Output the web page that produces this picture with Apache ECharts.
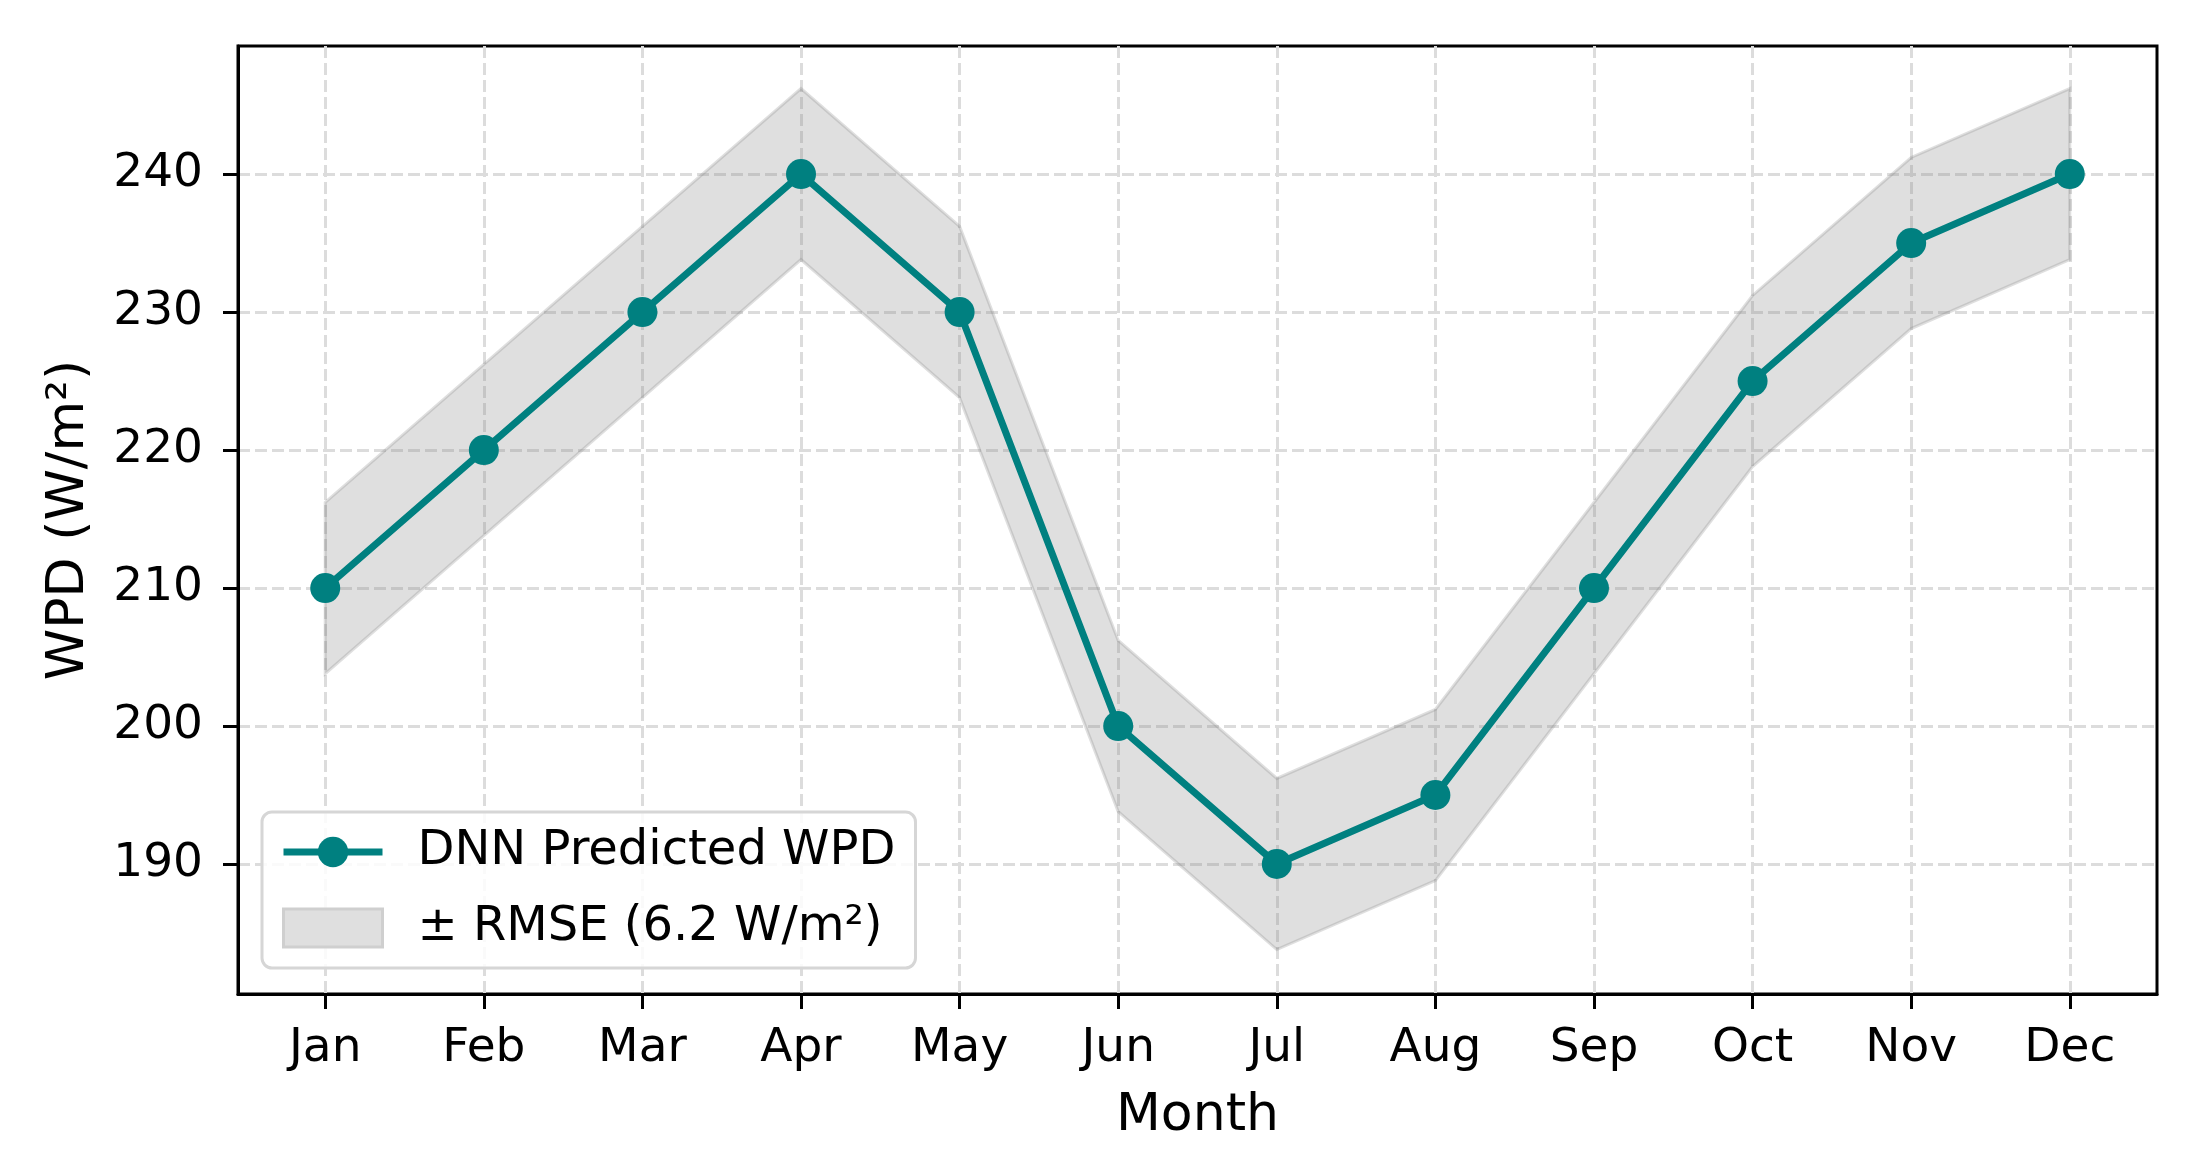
<!DOCTYPE html>
<html>
<head>
<meta charset="utf-8">
<script src="https://cdn.jsdelivr.net/npm/echarts@6/dist/echarts.min.js"></script>
<style>html,body{margin:0;padding:0;background:#fff;}#c{width:2191px;height:1161px;}</style>
</head>
<body>
<div id="c"></div>
<script>
const months = ['Jan','Feb','Mar','Apr','May','Jun','Jul','Aug','Sep','Oct','Nov','Dec'];
const wpd = [210, 220, 230, 240, 230, 200, 190, 195, 210, 225, 235, 240];
const rmse = 6.2;
const lower = [203.8, 213.8, 223.8, 233.8, 223.8, 193.8, 183.8, 188.8, 203.8, 218.8, 228.8, 233.8];
const upper = [216.2, 226.2, 236.2, 246.2, 236.2, 206.2, 196.2, 201.2, 216.2, 231.2, 241.2, 246.2];
const yTicks = [190, 200, 210, 220, 230, 240];
const xTicks = [0,1,2,3,4,5,6,7,8,9,10,11];

const FONT = 'DejaVu Sans';
const lineName = 'DNN Predicted WPD';
const bandName = '± RMSE (6.2 W/m²)';

const chart = echarts.init(document.getElementById('c'), null, {renderer: 'canvas'});
const gridLine = {show: true, lineStyle: {color: '#dcdcdc', width: 3, type: [12, 5]}};

function renderBand(params, api) {
  if (params.dataIndex !== 0) return null;
  const top = xTicks.map(i => api.coord([i, upper[i]]));
  const bot = xTicks.map(i => api.coord([i, lower[i]])).reverse();
  const pts = top.concat(bot);
  return {
    type: 'polygon',
    shape: {points: pts},
    style: {fill: 'rgba(128,128,128,0.25)', stroke: 'rgba(128,128,128,0.25)', lineWidth: 3},
    silent: true
  };
}

chart.setOption({
  animation: false,
  backgroundColor: '#ffffff',
  textStyle: {fontFamily: FONT},
  grid: {left: 238, top: 46, right: 34, bottom: 167, show: true, borderColor: '#000', borderWidth: 3, backgroundColor: 'transparent'},
  legend: {
    left: 262, top: 812,
    orient: 'vertical',
    padding: [16, 20, 16, 18],
    itemGap: 28,
    itemWidth: 99, itemHeight: 38,
    backgroundColor: 'rgba(255,255,255,0.85)',
    borderColor: '#d6d6d6', borderWidth: 3, borderRadius: 10,
    textStyle: {fontFamily: FONT, fontSize: 48, color: '#000', padding: [0,0,0,30]},
    data: [
      {name: lineName, lineStyle: {width: 7, color: '#008080'}, itemStyle: {color: '#008080'}},
      {name: bandName, icon: 'rect', itemStyle: {color: '#dfdfdf', borderColor: '#cfcfcf', borderWidth: 3}}
    ]
  },
  xAxis: {
    type: 'value', min: -0.55, max: 11.55,
    name: 'Month', nameLocation: 'middle', nameGap: 96,
    nameTextStyle: {fontFamily: FONT, fontSize: 52, color: '#000'},
    axisLine: {show: true, onZero: false, lineStyle: {color: '#000', width: 3}},
    axisTick: {show: true, length: 15, lineStyle: {color: '#000', width: 3}, customValues: xTicks},
    axisLabel: {fontFamily: FONT, fontSize: 47, color: '#000', margin: 31, customValues: xTicks,
      formatter: v => months[Math.round(v)] || ''},
    splitLine: gridLine
  },
  yAxis: {
    type: 'value', min: 180.58, max: 249.28,
    name: 'WPD (W/m²)', nameLocation: 'middle', nameGap: 143,
    nameTextStyle: {fontFamily: FONT, fontSize: 52, color: '#000'},
    axisLine: {show: true, onZero: false, lineStyle: {color: '#000', width: 3}},
    axisTick: {show: true, length: 15, lineStyle: {color: '#000', width: 3}, customValues: yTicks},
    axisLabel: {fontFamily: FONT, fontSize: 47, color: '#000', margin: 35, customValues: yTicks},
    splitLine: gridLine
  },
  series: [
    {
      name: bandName, type: 'custom', silent: true,
      renderItem: renderBand,
      itemStyle: {color: '#dfdfdf'},
      data: xTicks.map(i => [i, lower[i], upper[i]]),
      encode: {x: 0, y: [1, 2]},
      z: 1
    },
    {
      name: lineName, type: 'line',
      data: xTicks.map(i => [i, wpd[i]]),
      symbol: 'circle', symbolSize: 30,
      lineStyle: {color: '#008080', width: 7},
      itemStyle: {color: '#008080'},
      z: 5
    }
  ]
});
</script>
</body>
</html>
